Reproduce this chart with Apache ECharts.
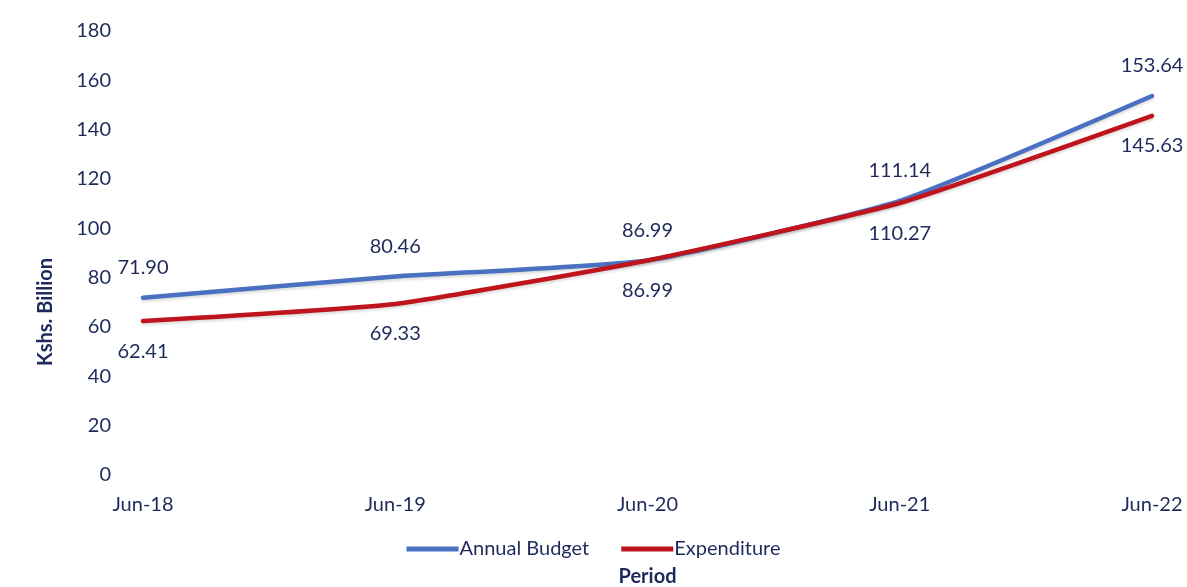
<!DOCTYPE html>
<html>
<head>
<meta charset="utf-8">
<script src="https://cdn.jsdelivr.net/npm/echarts@6/dist/echarts.min.js"></script>
<style>
  html, body { margin: 0; padding: 0; background: #fff; }
  #main { width: 1187px; height: 587px; }
</style>
</head>
<body>
<div id="main"></div>
<script>
var periods = ["Jun-18", "Jun-19", "Jun-20", "Jun-21", "Jun-22"];
var annualBudget = [71.90, 80.46, 86.99, 111.14, 153.64];
var expenditure = [62.41, 69.33, 86.99, 110.27, 145.63];
var yTicks = { min: 0, max: 180, interval: 20 };

var textColor = "#1f2a5c";
var font = "Lato";

function fmt(p) {
  return p.value.toFixed(2);
}

var chart = echarts.init(document.getElementById("main"));
var option = {
  backgroundColor: "#fff",
  textStyle: { fontFamily: font, color: textColor },
  grid: { left: 143, right: 35, top: 31, bottom: 112, outerBoundsMode: "none" },
  legend: {
    bottom: 23,
    left: "center",
    itemWidth: 52,
    itemHeight: 5,
    itemGap: 32,
    textStyle: { fontFamily: font, fontSize: 20, color: textColor, padding: [0, 0, 0, -4] },
    data: [
      { name: "Annual Budget", icon: "rect" },
      { name: "Expenditure", icon: "rect" }
    ]
  },
  xAxis: {
    type: "category",
    data: periods,
    boundaryGap: false,
    axisLine: { show: false },
    axisTick: { show: false },
    axisLabel: { fontFamily: font, fontSize: 20, color: textColor, margin: 20 },
    name: "Period",
    nameLocation: "middle",
    nameGap: 92,
    nameTextStyle: { fontFamily: font, fontSize: 20, fontWeight: "bold", color: textColor }
  },
  yAxis: {
    type: "value",
    min: yTicks.min,
    max: yTicks.max,
    interval: yTicks.interval,
    splitLine: { show: false },
    axisLine: { show: false },
    axisTick: { show: false },
    axisLabel: { fontFamily: font, fontSize: 20, color: textColor, margin: 32 }
  },
  graphic: [
    {
      type: "text",
      x: 46,
      y: 312,
      rotation: Math.PI / 2,
      style: {
        text: "Kshs. Billion",
        fontFamily: font,
        fontSize: 20,
        fontWeight: "bold",
        fill: textColor,
        align: "center",
        verticalAlign: "middle"
      }
    }
  ],
  series: [
    {
      name: "Annual Budget",
      type: "line",
      data: annualBudget,
      smooth: 0.15,
      symbol: "circle",
      symbolSize: 0.1,
      lineStyle: { width: 4.5, color: "#4a70c2", cap: "round", shadowColor: "rgba(0,0,0,0.15)", shadowBlur: 3, shadowOffsetY: 2 },
      itemStyle: { color: "#4a70c2" },
      label: {
        show: true,
        position: "top",
        distance: 20,
        formatter: fmt,
        fontFamily: font,
        fontSize: 20,
        color: textColor
      },
      z: 2
    },
    {
      name: "Expenditure",
      type: "line",
      data: expenditure,
      smooth: 0.15,
      symbol: "circle",
      symbolSize: 0.1,
      lineStyle: { width: 4.5, color: "#c0141c", cap: "round", shadowColor: "rgba(0,0,0,0.15)", shadowBlur: 3, shadowOffsetY: 2 },
      itemStyle: { color: "#c0141c" },
      label: {
        show: true,
        position: "bottom",
        distance: 20,
        formatter: fmt,
        fontFamily: font,
        fontSize: 20,
        color: textColor
      },
      z: 3
    }
  ]
};
chart.setOption(option);
</script>
</body>
</html>
